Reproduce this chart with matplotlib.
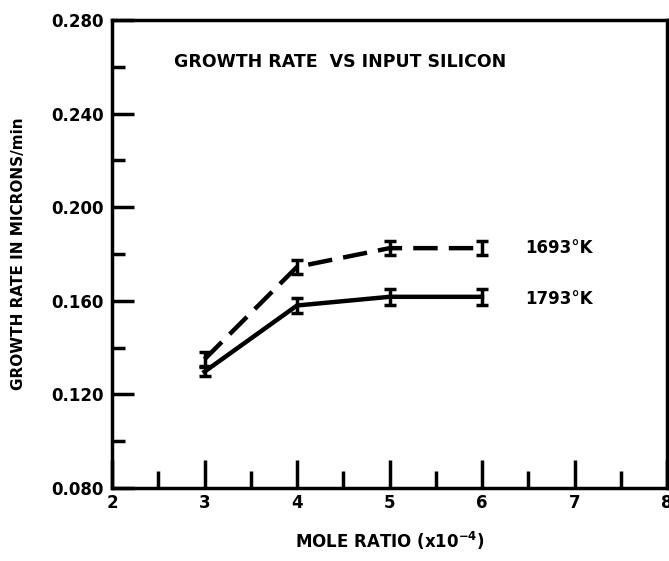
import matplotlib
matplotlib.use("Agg")
import matplotlib.pyplot as plt
from matplotlib.ticker import MultipleLocator

mole_ratio = [3, 4, 5, 6]
rate_1693 = [0.135, 0.1745, 0.1825, 0.1825]
err_1693 = [0.003, 0.003, 0.003, 0.003]
rate_1793 = [0.1297, 0.158, 0.1617, 0.1617]
err_1793 = [0.002, 0.003, 0.0033, 0.0033]
labels = ["1693°K", "1793°K"]

plt.rcParams['font.family'] = ['DejaVu Sans']
plt.rcParams['font.weight'] = 'bold'

fig = plt.figure(figsize=(6.69, 5.61), dpi=100)
ax = fig.add_axes([112/669, 1-488/561, 555/669, 468/561])

ax.errorbar(mole_ratio, rate_1693, yerr=err_1693, color='black', lw=3.2,
            linestyle=(0, (5.5, 2.5)), capsize=4, capthick=2.5, elinewidth=2.5)
ax.errorbar(mole_ratio, rate_1793, yerr=err_1793, color='black', lw=3.2,
            linestyle='-', capsize=4, capthick=2.5, elinewidth=2.5)

ax.text(6.47, rate_1693[-1], labels[0], fontsize=12, fontweight='bold', va='center', ha='left')
ax.text(6.47, rate_1793[-1] - 0.001, labels[1], fontsize=12, fontweight='bold', va='center', ha='left')

ax.text(2.67, 0.262, "GROWTH RATE  VS INPUT SILICON", fontsize=12.5, fontweight='bold', va='center', ha='left')

ax.set_xlim(2, 8)
ax.set_ylim(0.080, 0.280)
ax.xaxis.set_major_locator(MultipleLocator(1))
ax.xaxis.set_minor_locator(MultipleLocator(0.5))
ax.yaxis.set_major_locator(MultipleLocator(0.04))
ax.yaxis.set_minor_locator(MultipleLocator(0.02))
ax.yaxis.set_major_formatter(plt.FuncFormatter(lambda v, p: f"{v:.3f}"))

ax.tick_params(axis='both', which='both', direction='in', width=2.5, top=False, right=False)
ax.tick_params(axis='y', which='major', length=16, labelsize=12, pad=6)
ax.tick_params(axis='y', which='minor', length=9)
ax.tick_params(axis='x', which='major', length=20, labelsize=12, pad=4)
ax.tick_params(axis='x', which='minor', length=12)
for lab in ax.get_xticklabels() + ax.get_yticklabels():
    lab.set_fontweight('bold')

for s in ax.spines.values():
    s.set_linewidth(2.5)

ax.set_xlabel("MOLE RATIO (x10$^{-4}$)", fontsize=12, fontweight='bold', labelpad=13)
ax.set_ylabel("GROWTH RATE IN MICRONS/min", fontsize=11, fontweight='bold', labelpad=18)

fig.savefig("out.png", dpi=100)
